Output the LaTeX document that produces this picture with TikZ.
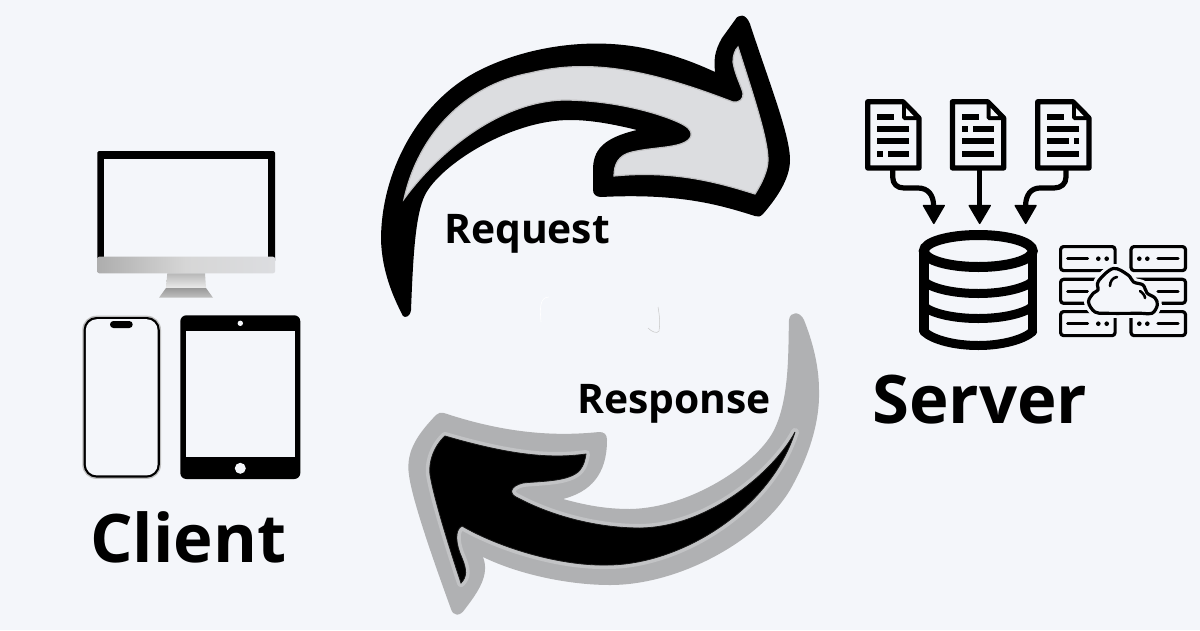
\documentclass[tikz,border=0pt]{standalone}
\usepackage{fontspec}
\setmainfont{Open Sans}
\definecolor{bgc}{HTML}{F4F6FA}
\definecolor{reqfill}{HTML}{DCDDE0}
\definecolor{reqedge}{HTML}{C0C0C2}
\definecolor{resout}{HTML}{B0B1B3}
\definecolor{resring}{HTML}{C2C3C5}
\tikzset{
  ink/.style={draw=black,line width=5.2pt,line join=round,line cap=butt},
  thin ink/.style={draw=black,line width=3.2pt,line join=round},
  label big/.style={anchor=base west,inner sep=0pt,font=\bfseries\fontsize{67}{67}\selectfont},
  label small/.style={anchor=base west,inner sep=0pt,font=\bfseries\fontsize{40.8}{41}\selectfont},
  head/.style={fill=black,draw=black,line width=1.5pt,line join=round},
}
\newcommand{\docicon}[1]{%
  \draw[ink,fill=bgc,shift={(#1,0)}] (867.7,101.7) -- (903,101.7) -- (919,118) -- (919,168) -- (867.7,168) -- cycle;
  \fill[shift={(#1,0)}] (902,101) -- (921,120) -- (904,120) -- (902,118) -- cycle;
  \fill[bgc,shift={(#1,0)}] (906,108) -- (913.5,116) -- (906,116) -- cycle;
}
\newcommand{\srvbox}[2]{\draw[thin ink,rounded corners=3pt] (#1,#2) rectangle ++(54.5,24);}
\def\reqouter{(403,316) .. controls (392,295) and (382,270) .. (381,240) .. controls (381,170) and (420,100) .. (480,70) .. controls (530,45) and (600,35) .. (660,52) .. controls (680,57) and (700,65) .. (715,72)
  .. controls (714,60) and (714,52) .. (722,38) -- (735,20) .. controls (738,14) and (746,13) .. (750,24)
  .. controls (770,85) and (790,135) .. (790,160) .. controls (790,180) and (775,200) .. (763,214) .. controls (760,217) and (758,217) .. (755,216)
  .. controls (720,205) and (680,193) .. (601,197) .. controls (596,197) and (593,194) .. (593,190)
  -- (593,170) .. controls (593,150) and (603,138) .. (637,130)
  .. controls (605,122) and (585,120) .. (570,120) .. controls (510,120) and (440,165) .. (425,195) .. controls (415,215) and (413,260) .. (411,310)
  .. controls (410,317) and (405,318) .. (403,316) -- cycle}
\def\reqinner{(404,199) .. controls (418,135) and (465,85) .. (530,73) .. controls (590,58) and (650,70) .. (733,102)
  .. controls (739,103) and (744,99) .. (743,93) .. controls (741,85) and (735,75) .. (733,62) .. controls (733,55) and (735,50) .. (738,47)
  .. controls (755,100) and (768,140) .. (768,160) .. controls (768,170) and (762,183) .. (755,194)
  .. controls (720,183) and (675,170) .. (614,176) .. controls (614,165) and (618,155) .. (632,152)
  .. controls (650,148) and (665,148) .. (677,145) .. controls (690,142) and (695,135) .. (688,128) .. controls (680,120) and (625,100) .. (563,100)
  .. controls (500,102) and (440,150) .. (404,199) -- cycle}
\def\resouter{(789,320) .. controls (788,350) and (790,400) .. (773,432) .. controls (755,465) and (690,508) .. (630,509) .. controls (605,509) and (585,505) .. (563,499)
  .. controls (590,492) and (607,475) .. (607,440) .. controls (607,434) and (604,432) .. (599,432)
  .. controls (560,436) and (510,435) .. (444,413) .. controls (441,412) and (438,413) .. (436,415)
  .. controls (420,432) and (405,450) .. (409,475) .. controls (412,500) and (435,565) .. (451,609)
  .. controls (453,616) and (460,617) .. (465,609) .. controls (478,592) and (490,575) .. (483,557)
  .. controls (520,575) and (570,585) .. (610,585) .. controls (680,585) and (760,540) .. (790,490)
  .. controls (810,455) and (820,420) .. (819,390) .. controls (819,365) and (812,340) .. (804,320)
  .. controls (800,311) and (790,311) .. (789,320) -- cycle}
\def\resblack{(795,432) .. controls (775,470) and (710,527) .. (640,528) .. controls (595,528) and (550,515) .. (518,498)
  .. controls (508,494) and (510,486) .. (523,483) .. controls (540,481) and (570,482) .. (580,470) .. controls (584,465) and (585,460) .. (586,454)
  .. controls (550,459) and (510,455) .. (445,436) .. controls (433,447) and (427,465) .. (431,480)
  .. controls (436,505) and (450,550) .. (461,583) .. controls (467,577) and (467,570) .. (462,558) .. controls (456,545) and (454,530) .. (462,526)
  .. controls (500,548) and (560,566) .. (607,565) .. controls (680,565) and (770,510) .. (795,432) -- cycle}
\begin{document}
\begin{tikzpicture}[x=1pt,y=-1pt]
\useasboundingbox (0,0) rectangle (1200,630);
\fill[bgc] (0,0) rectangle (1200,630);

% --- Request arrow
\fill[black] \reqouter;
\fill[reqfill,draw=reqedge,line width=1.2pt,line join=miter] \reqinner;

% --- faint marks
\draw[white,line width=.6pt] (541,322) .. controls (540,310) and (539,297) .. (549,297);
\draw[black!22,line width=.5pt] (658,307) .. controls (660,318) and (660,325) .. (659,331) .. controls (657,334) and (652,332) .. (648,328);

% --- Response arrow
\fill[resout] \resouter;
\draw[resring,line width=8pt,line join=round] \resblack;
\fill[black,draw=black!90,line width=.8pt] \resblack;

% --- labels
\node[label small] (request) at (444,243) {Request};
\node[label small] (response) at (577,413) {Response};
\node[label big] (client) at (90,562) {Client};
\node[label big] (server) at (872,423) {Server};

% --- monitor
\fill[black,rounded corners=1.5pt] (97.3,151) rectangle (275,262);
\fill[bgc] (104.3,158.7) rectangle (267.7,257);
\shade[left color=black!32,right color=reqfill,middle color=black!16,rounded corners=2pt] (97.3,256.7) rectangle (275,273.3);
\shade[top color=black!28,bottom color=black!8] (167.3,273.3) -- (205,273.3) -- (206,288) -- (166,288) -- cycle;
\shade[top color=black!40,bottom color=black!25] (166,288) -- (206,288) -- (213,297.7) -- (159,297.7) -- cycle;

% --- phone
\fill[black!25,rounded corners=14pt] (82.3,315.7) rectangle (161,478.9);
\fill[black,rounded corners=13pt] (83.6,317) rectangle (159.8,477.6);
\fill[bgc,rounded corners=11pt] (85.8,319.2) rectangle (157.6,475.4);
\fill[black,rounded corners=3.4pt] (110,321) rectangle (132.7,328);

% --- tablet
\fill[black,rounded corners=6pt] (180.3,315.3) rectangle (300.3,479);
\fill[bgc] (185.7,331.3) rectangle (295,457.3);
\fill[bgc] (240.3,323.3) circle (2.7);
\fill[bgc] (240.3,468.3) circle (5.5);

% --- documents
\docicon{0}\docicon{84.7}\docicon{170}
\foreach \xa/\ya/\xb/\yb in {
  877.3/114.3/894.3/120, 877.3/125.7/909/132, 877.3/138.3/909/144.3, 877.3/150.7/882.7/157, 887.7/150.7/909/157,
  962/114.3/979/120, 962/125.7/967.5/132, 973/125.7/994.3/132, 962/138.3/994.3/144.3, 962/150.7/994.3/157,
  1047.3/114.3/1064.3/120, 1047.3/125.7/1079.3/132, 1047.3/138.3/1069.3/144.3, 1074/138.3/1079.3/144.3, 1047.3/150.7/1079.3/157}
  {\fill (\xa,\ya) rectangle (\xb,\yb);}

% --- doc arrows
\draw[ink,fill=none] (892.7,170) -- (892.7,177) .. controls (892.7,184) and (897,188) .. (904,188) -- (918,188) .. controls (928,188) and (933.6,195) .. (933.6,206);
\draw[ink,fill=none] (979.7,170) -- (979.7,206);
\draw[ink,fill=none] (1066,170) -- (1066,177) .. controls (1066,184) and (1061,188) .. (1054,188) -- (1040,188) .. controls (1031,188) and (1025.6,195) .. (1025.6,206);
\fill[head] (923.5,205.5) -- (944.2,205.5) -- (933.8,223.3) -- cycle;
\fill[head] (969.2,205.5) -- (990.2,205.5) -- (979.7,223.3) -- cycle;
\fill[head] (1015.2,205.5) -- (1036,205.5) -- (1025.7,223.3) -- cycle;

% --- database
\draw[draw=black,line width=9.4pt,line cap=round,line join=round]
  (923.9,251) -- (923.9,331) (1032.7,251) -- (1032.7,331);
\draw[black,line width=10pt] (978.3,251) ellipse (54.4 and 16);
\draw[black,line width=9pt,line cap=round] (923.9,331.5) .. controls (933,340) and (955,345.5) .. (978.3,345.5) .. controls (1001,345.5) and (1023,340) .. (1032.7,331.5);
\draw[black,line width=9pt] (923.9,281.5) .. controls (933,289) and (955,293.5) .. (978.3,293.5) .. controls (1001,293.5) and (1023,289) .. (1032.7,281.5);
\draw[black,line width=9pt] (923.9,306.5) .. controls (933,314) and (955,318.5) .. (978.3,318.5) .. controls (1001,318.5) and (1023,314) .. (1032.7,306.5);

% --- server rack with cloud
\foreach \yy in {246.6,279.3,311.6} {
  \srvbox{1060.6}{\yy}
  \srvbox{1131}{\yy}
}
\foreach \yy in {258.7,291.2,323.7} {
  \draw[black,line width=3.2pt,line cap=round] (1067.7,\yy) -- (1087.5,\yy);
  \draw[black,line width=3.2pt,line cap=round] (1158,\yy) -- (1178,\yy);
}
\foreach \yy in {258.7,323.7} {
  \foreach \xx in {1098.3,1106.7,1139.3,1147.3} {\fill (\xx,\yy) circle (2.3);}
}
\def\cloudpath{plot[smooth cycle,tension=.6] coordinates {(1106.7,313.3)(1095,312)(1088.5,302)(1093.5,293)(1098,290)(1098.5,281)(1113.3,268.5)(1128,275)(1133.5,282)(1143,285)(1147,293)(1155,298)(1157.3,305)(1152,313.3)(1140,313.3)}}
\fill[bgc] (1104,280) rectangle (1125,300);
\draw[bgc,line width=9pt,fill=bgc,line join=round] \cloudpath;
\draw[black,line width=3.2pt,fill=bgc,line join=round] \cloudpath;
\draw[black,line width=2.6pt,line cap=round] (1110,286) .. controls (1110,281) and (1113,277.5) .. (1117,277);
\draw[black,line width=2.6pt,line cap=round] (1140,291) .. controls (1143,293) and (1145,296) .. (1145,298);
\end{tikzpicture}
\end{document}
